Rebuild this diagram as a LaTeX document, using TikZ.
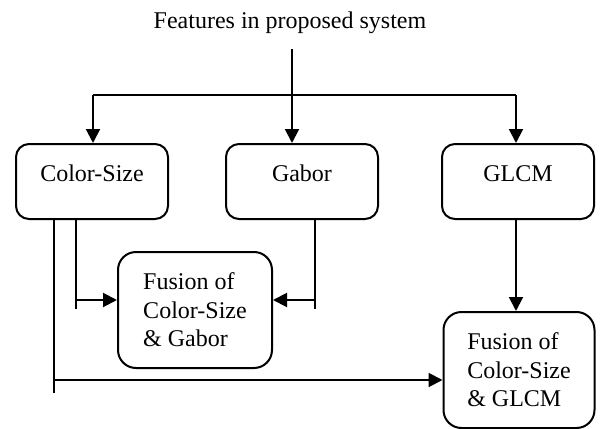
\documentclass[tikz,border=0pt]{standalone}
\usepackage{fontspec}
\setmainfont{Liberation Serif}
\usetikzlibrary{positioning,calc,arrows.meta}

\tikzset{
  featbox/.style={draw, line width=1pt, rounded corners=6.5pt,
    minimum width=76pt, minimum height=37.5pt,
    text height=8.5pt, text depth=8.5pt},
  fusebox/.style={draw, line width=1pt, rounded corners=9pt,
    align=left, minimum height=58pt},
  wire/.style={line width=1pt},
  arrow/.style={wire, -{Triangle[length=7pt,width=7pt]}}
}

\begin{document}
\begin{tikzpicture}[x=0.5pt, y=-0.5pt, font=\fontsize{12}{14.2}\selectfont]
  \useasboundingbox (0,0) rectangle (601,429);

  \node (title) at (290,23) {Features in proposed system};

  \node[featbox] (cs) at (92,181.5) {Color-Size};
  \node[featbox] (gab) at (302,181.5) {Gabor};
  \node[featbox] (glcm) at (518,181.5) {GLCM};

  \node[fusebox, minimum width=77pt] (fcg) at (195,310)
    {Fusion of\\Color-Size\\\& Gabor};
  \node[fusebox, minimum width=75.5pt] (fcl) at (519,370)
    {Fusion of\\Color-Size\\\& GLCM};

  \coordinate (top) at (292,49);
  \coordinate (split) at (292,95);
  \coordinate (csA) at (54,219);
  \coordinate (csB) at (76,219);
  \coordinate (gbA) at (315,219);

  \draw[arrow] (top) -- (top |- gab.north);
  \draw[wire] (split -| 93,0) -- (split -| 516,0);
  \draw[arrow] (split -| 93,0) -- (93,0 |- cs.north);
  \draw[arrow] (split -| 516,0) -- (516,0 |- glcm.north);

  \draw[wire] (csB) -- ++(0,90);
  \draw[arrow] (csB |- 0,300) -- (fcg.west |- 0,300);
  \draw[wire] (gbA) -- ++(0,90);
  \draw[arrow] (gbA |- 0,300) -- (fcg.east |- 0,300);
  \draw[wire] (csA) -- ++(0,174);
  \draw[arrow] (csA |- 0,380) -- (fcl.west |- 0,380);
  \draw[arrow] (516,0 |- glcm.south) -- (516,0 |- fcl.north);
\end{tikzpicture}
\end{document}
